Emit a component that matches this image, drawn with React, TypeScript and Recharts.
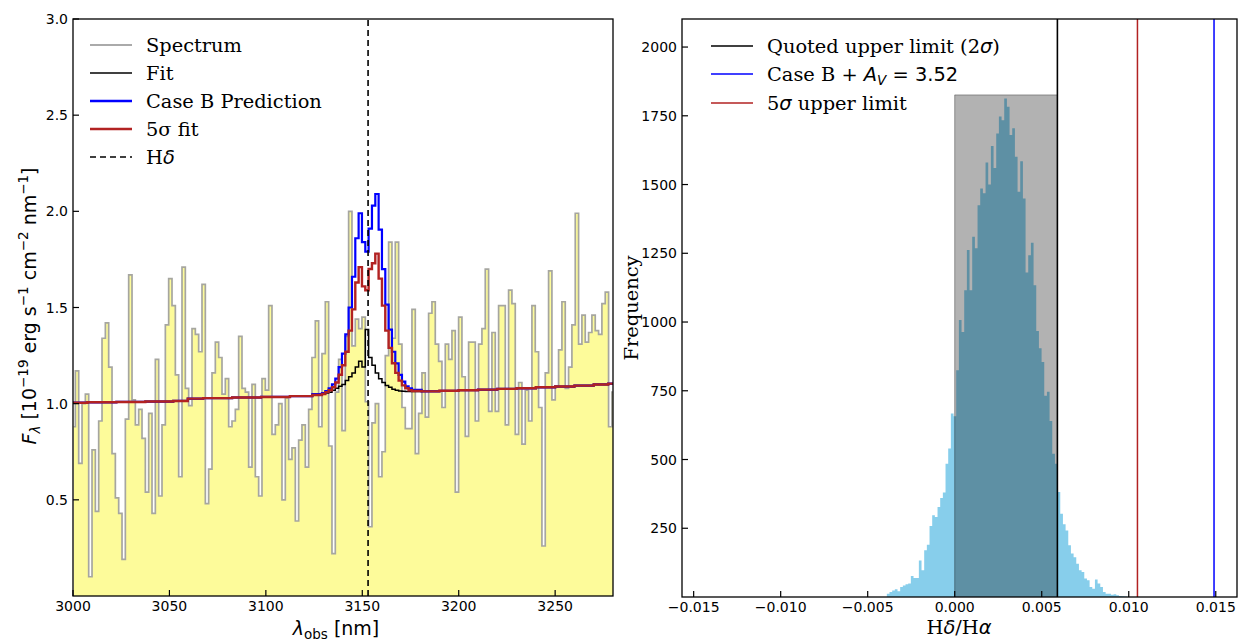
import React from 'react';
import { ComposedChart, Area, Line, XAxis, YAxis, ReferenceLine } from 'recharts';

const SERIF = '"DejaVu Serif", serif';
const SANS = '"DejaVu Sans", sans-serif';

// ---- left panel: spectrum around H-delta ----
// bin centres: LAM0 + k * DLAM (nm)
const LAM0 = 3000.36;
const DLAM = 1.728;
const SPEC = [
  0.88, 1.17, 0.69, 1.0, 1.05, 0.1, 0.76, 0.44, 0.91, 1.34,
  1.42, 1.19, 0.74, 0.51, 0.43, 0.19, 0.92, 1.67, 1.02, 0.89,
  0.97, 0.82, 0.54, 0.95, 0.43, 1.23, 0.52, 0.89, 1.41, 1.65,
  1.51, 1.15, 0.62, 1.71, 1.08, 0.99, 1.39, 1.36, 1.27, 1.62,
  0.48, 0.66,
  1.16, 1.32, 1.24, 1.05, 1.13, 0.88, 0.91, 0.97, 1.35, 1.08,
  1.06, 0.67, 1.1, 0.62, 0.52, 1.13, 1.07, 1.51, 0.84, 0.89,
  1.0, 0.5, 1.03, 0.71, 0.77, 0.39, 0.81, 0.89, 0.67, 0.97,
  1.24, 1.43, 0.88, 1.26, 1.53, 0.78, 0.22, 1.06, 1.23, 0.86,
  1.35, 2.0, 1.3, 1.44, 1.39, 1.45, 1.01, 0.36, 0.9, 1.0,
  0.62, 0.75, 1.25, 1.84, 1.34, 1.84, 1.31, 0.98, 0.87, 0.87,
  1.49, 0.74, 0.95, 1.16, 0.93, 1.47, 1.53, 1.31, 1.22, 0.98,
  1.31, 1.23, 1.38, 0.54, 1.45, 1.14, 0.83, 1.32,
  1.32, 0.91, 1.31, 1.39, 1.7, 0.96, 1.37, 0.96, 1.51, 1.51,
  0.89, 1.59, 1.52, 0.84, 1.11, 0.79, 1.07, 0.91, 1.51, 1.27,
  0.98, 0.26, 1.16, 1.69, 1.02, 1.09, 1.28, 1.53, 1.08, 1.19,
  1.41, 1.99, 1.31, 1.46, 1.32, 1.37, 1.46, 1.38, 1.36, 1.52,
  1.58, 0.88, 1.06,
];

// line profiles, bins 74..102
const EM_START = 74;
const FIT_EM = [
  1.045, 1.05, 1.055, 1.06, 1.07, 1.08, 1.09, 1.1, 1.12, 1.14,
  1.16, 1.19, 1.22, 1.19, 1.385, 1.24, 1.2, 1.16, 1.13, 1.11,
  1.095, 1.085, 1.075, 1.07, 1.066, 1.064, 1.063, 1.063, 1.063,
];
const CASEB_EM = [
  1.05, 1.055, 1.065, 1.08, 1.1, 1.13, 1.19, 1.26, 1.36, 1.5,
  1.66, 1.86, 1.99, 1.84, 1.79, 1.91, 2.03, 2.09, 1.905, 1.7,
  1.515, 1.385, 1.27, 1.21, 1.15, 1.115, 1.09, 1.08, 1.072,
];
const SIG5_EM = [
  1.045, 1.05, 1.06, 1.07, 1.085, 1.11, 1.15, 1.2, 1.27, 1.38,
  1.49, 1.63, 1.71, 1.61, 1.59, 1.7, 1.73, 1.78, 1.65, 1.51,
  1.38, 1.29, 1.21, 1.16, 1.12, 1.095, 1.08, 1.07, 1.066,
];
// continuum of the fits outside the line
const CONT_LEFT_LAM = [3000, 3015, 3030, 3045, 3059, 3060, 3075, 3090, 3105, 3120];
const CONT_LEFT = [1.005, 1.007, 1.009, 1.011, 1.014, 1.026, 1.029, 1.032, 1.035, 1.039];
const CONT_RIGHT_LAM = [3185, 3195, 3205, 3215, 3225, 3235, 3245, 3255, 3265, 3275, 3280];
const CONT_RIGHT = [1.064, 1.067, 1.07, 1.073, 1.077, 1.08, 1.085, 1.089, 1.094, 1.1, 1.104];

const H_DELTA = 3153;
const SPEC_XTICKS = [3000, 3050, 3100, 3150, 3200, 3250];
const SPEC_YTICKS = [0.5, 1.0, 1.5, 2.0, 2.5, 3.0];

// ---- right panel: H-delta / H-alpha histogram ----
const BIN0 = -0.0039;
const BINW = 0.0001533;
const HIST = [
  12, 18, 24, 28, 21, 36, 42, 46, 49, 76,
  69, 69, 133, 97, 170, 190, 258, 297, 291, 327,
  360, 380, 485, 540, 667, 657, 825, 1007, 964, 1116,
  1262, 1116, 1310, 1268, 1425, 1486, 1468, 1580, 1500, 1640,
  1560, 1686, 1747, 1734, 1813, 1783, 1680, 1705, 1601, 1474,
  1585, 1449, 1180, 1243, 1288, 1134, 967, 905, 855, 732,
  746, 640, 521, 485, 382, 303, 265, 242, 188, 158,
  145, 121, 97, 91, 67, 61, 36, 30, 64, 49,
  36, 18, 12, 12, 8, 10, 6, 4, 3, 2,
];
const LIMIT_2SIG = 0.0059;
const LIMIT_5SIG = 0.0105;
const CASEB_AV = 0.0149;
const BOX_TOP = 1826;
const HIST_XTICKS = [-0.015, -0.01, -0.005, 0, 0.005, 0.01, 0.015];
const HIST_YTICKS = [250, 500, 750, 1000, 1250, 1500, 1750, 2000];

const specData = SPEC.map((v, k) => ({ lam: LAM0 + k * DLAM, v }));

const fitData = (em: number[]) => [
  ...CONT_LEFT_LAM.map((lam, i) => ({ lam, v: CONT_LEFT[i] })),
  ...em.map((v, i) => ({ lam: LAM0 + (EM_START + i) * DLAM, v })),
  ...CONT_RIGHT_LAM.map((lam, i) => ({ lam, v: CONT_RIGHT[i] })),
];

const histData = [
  ...HIST.map((c, i) => ({ x: BIN0 + i * BINW, c })),
  { x: BIN0 + HIST.length * BINW, c: HIST[HIST.length - 1] },
];
const boxData = [
  { x: 0, c: BOX_TOP },
  { x: LIMIT_2SIG, c: BOX_TOP },
];
const boxEdge = [
  { x: 0, c: 0 },
  { x: 0, c: BOX_TOP },
  { x: LIMIT_2SIG, c: BOX_TOP },
];

const BottomTick = ({ x, y, payload, fmt }: any) => (
  <g>
    <line x1={x} x2={x} y1={y} y2={y - 6} stroke="#000" strokeWidth={1.2} />
    <text x={x} y={y + 15} textAnchor="middle" fontFamily={SANS} fontSize={14} fill="#000">
      {fmt(payload.value)}
    </text>
  </g>
);

const LeftTick = ({ x, y, payload, fmt }: any) => (
  <g>
    <line x1={x} x2={x + 6} y1={y} y2={y} stroke="#000" strokeWidth={1.2} />
    <text x={x - 5} y={y + 5} textAnchor="end" fontFamily={SANS} fontSize={14} fill="#000">
      {fmt(payload.value)}
    </text>
  </g>
);

const fmtHistX = (v: number) => (v === 0 ? '0.000' : v.toFixed(3).replace('-', '\u2212'));

const LegendRow = ({ x, y, stroke, width = 2, dash, children }: any) => (
  <g>
    <line x1={x} x2={x + 42} y1={y} y2={y} stroke={stroke} strokeWidth={width} strokeDasharray={dash} />
    <text x={x + 56} y={y + 7} fontFamily={SERIF} fontSize={19.4} fill="#000">
      {children}
    </text>
  </g>
);

export default function App() {
  return (
    <div style={{ position: 'absolute', left: 0, top: 0, width: 1245, height: 642, background: '#fff' }}>
      <div style={{ position: 'absolute', left: 0, top: 0 }}>
        <ComposedChart width={620} height={642} margin={{ top: 19, right: 7, bottom: 0, left: 0 }}>
          <XAxis
            type="number"
            dataKey="lam"
            domain={[3000, 3280]}
            ticks={SPEC_XTICKS}
            interval={0}
            allowDataOverflow
            axisLine={false}
            tickLine={false}
            tickSize={0}
            tickMargin={0}
            height={46}
            tick={(p: any) => <BottomTick {...p} fmt={(v: number) => String(v)} />}
          />
          <YAxis
            type="number"
            domain={[0, 3]}
            ticks={SPEC_YTICKS}
            interval={0}
            allowDataOverflow
            axisLine={false}
            tickLine={false}
            tickSize={0}
            tickMargin={0}
            width={73}
            tick={(p: any) => <LeftTick {...p} fmt={(v: number) => v.toFixed(1)} />}
          />
          <Area
            data={specData}
            dataKey="v"
            type="step"
            fill="#fdfb9a"
            fillOpacity={1}
            stroke="#a6a6a0"
            strokeWidth={1.7}
            isAnimationActive={false}
          />
          <Line data={fitData(FIT_EM)} dataKey="v" type="step" stroke="#000" strokeWidth={1.5} dot={false} isAnimationActive={false} />
          <Line data={fitData(CASEB_EM)} dataKey="v" type="step" stroke="#0000ff" strokeWidth={2.2} dot={false} isAnimationActive={false} />
          <Line data={fitData(SIG5_EM)} dataKey="v" type="step" stroke="#b22222" strokeWidth={2.4} dot={false} isAnimationActive={false} />
          <ReferenceLine x={H_DELTA} stroke="#000" strokeWidth={1.6} strokeDasharray="6 4" />
        </ComposedChart>
      </div>

      <div style={{ position: 'absolute', left: 620, top: 0 }}>
        <ComposedChart width={625} height={642} margin={{ top: 19, right: 8, bottom: 0, left: 0 }}>
          <XAxis
            type="number"
            dataKey="x"
            domain={[-0.01567, 0.01622]}
            ticks={HIST_XTICKS}
            interval={0}
            allowDataOverflow
            axisLine={false}
            tickLine={false}
            tickSize={0}
            tickMargin={0}
            height={45}
            tick={(p: any) => <BottomTick {...p} fmt={fmtHistX} />}
          />
          <YAxis
            type="number"
            domain={[0, 2102]}
            ticks={HIST_YTICKS}
            interval={0}
            allowDataOverflow
            axisLine={false}
            tickLine={false}
            tickSize={0}
            tickMargin={0}
            width={62}
            tick={(p: any) => <LeftTick {...p} fmt={(v: number) => String(v)} />}
          />
          <Area
            data={histData}
            dataKey="c"
            type="stepAfter"
            fill="#87ceeb"
            fillOpacity={1}
            stroke="none"
            isAnimationActive={false}
          />
          <Area
            data={boxData}
            dataKey="c"
            type="linear"
            fill="#000"
            fillOpacity={0.3}
            stroke="none"
            isAnimationActive={false}
          />
          <Line data={boxEdge} dataKey="c" type="linear" stroke="#000" strokeOpacity={0.35} strokeWidth={1} dot={false} isAnimationActive={false} />
          <ReferenceLine x={LIMIT_2SIG} stroke="#000" strokeWidth={1.6} />
          <ReferenceLine x={LIMIT_5SIG} stroke="#b22222" strokeWidth={1.5} />
          <ReferenceLine x={CASEB_AV} stroke="#0000ff" strokeWidth={1.5} />
        </ComposedChart>
      </div>

      <svg width={1245} height={642} style={{ position: 'absolute', left: 0, top: 0, pointerEvents: 'none' }}>
        <rect x={73} y={19} width={540} height={577} fill="none" stroke="#000" strokeWidth={1.3} />
        <rect x={682} y={19} width={555} height={578} fill="none" stroke="#000" strokeWidth={1.3} />

        {/* left legend */}
        <LegendRow x={90} y={45} stroke="#aaaaaa">Spectrum</LegendRow>
        <LegendRow x={90} y={73} stroke="#000" width={1.6}>Fit</LegendRow>
        <LegendRow x={90} y={101} stroke="#0000ff" width={2.4}>Case B Prediction</LegendRow>
        <LegendRow x={90} y={129} stroke="#b22222" width={2.4}>5σ fit</LegendRow>
        <LegendRow x={90} y={157} stroke="#000" width={1.6} dash="6 4">
          H<tspan fontFamily={SANS} fontStyle="italic">δ</tspan>
        </LegendRow>

        {/* right legend */}
        <LegendRow x={711} y={46} stroke="#000" width={1.6}>
          Quoted upper limit (2<tspan fontFamily={SANS} fontStyle="italic">σ</tspan>)
        </LegendRow>
        <LegendRow x={711} y={74} stroke="#0000ff" width={1.6}>
          {'Case B + '}
          <tspan fontFamily={SANS} fontStyle="italic">A</tspan>
          <tspan fontFamily={SANS} fontStyle="italic" fontSize={13.5} dy={4}>V</tspan>
          <tspan fontFamily={SANS} dy={-4}> = 3.52</tspan>
        </LegendRow>
        <LegendRow x={711} y={103} stroke="#b22222" width={1.6}>
          5<tspan fontFamily={SANS} fontStyle="italic">σ</tspan> upper limit
        </LegendRow>

        {/* axis labels */}
        <text transform="translate(36,306) rotate(-90)" textAnchor="middle" fontFamily={SANS} fontSize={19} fill="#000">
          <tspan fontStyle="italic">F</tspan>
          <tspan fontStyle="italic" fontSize={13.5} dy={4}>λ</tspan>
          <tspan dy={-4}> [10</tspan>
          <tspan fontSize={13.5} dy={-8}>−19</tspan>
          <tspan dy={8}> erg s</tspan>
          <tspan fontSize={13.5} dy={-8}>−1</tspan>
          <tspan dy={8}> cm</tspan>
          <tspan fontSize={13.5} dy={-8}>−2</tspan>
          <tspan dy={8}> nm</tspan>
          <tspan fontSize={13.5} dy={-8}>−1</tspan>
          <tspan dy={8}>]</tspan>
        </text>
        <text x={336} y={635} textAnchor="middle" fontFamily={SANS} fontSize={19} fill="#000">
          <tspan fontStyle="italic">λ</tspan>
          <tspan fontSize={13.5} dy={4}>obs</tspan>
          <tspan dy={-4}> [nm]</tspan>
        </text>
        <text x={959} y={634} textAnchor="middle" fontFamily={SERIF} fontSize={19.4} fill="#000">
          H<tspan fontFamily={SANS} fontStyle="italic">δ</tspan>/H<tspan fontFamily={SANS} fontStyle="italic">α</tspan>
        </text>
        <text transform="translate(638,308) rotate(-90)" textAnchor="middle" fontFamily={SERIF} fontSize={19.4} fill="#000">
          Frequency
        </text>
      </svg>
    </div>
  );
}
